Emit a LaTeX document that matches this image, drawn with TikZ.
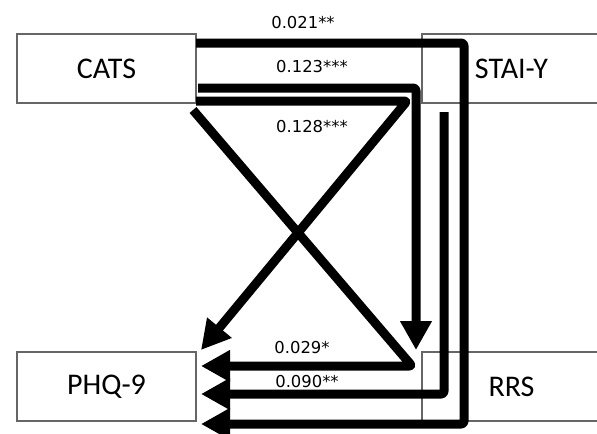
\documentclass[tikz,border=0pt]{standalone}
\usepackage{fontspec}
\setmainfont{Carlito}
\newfontfamily\lblfont{DejaVu Sans}
\usetikzlibrary{arrows.meta}
\begin{document}
\begin{tikzpicture}[x=0.75pt,y=-0.75pt,
  box/.style={draw=black!60,line width=0.8pt,minimum width=134.25pt,minimum height=51.75pt,inner sep=0pt,font=\fontsize{22.5}{26}\selectfont},
  lbl/.style={font=\lblfont\fontsize{12.3}{15}\selectfont,inner sep=0pt},
  conn/.style={line width=6.75pt,line join=round,rounded corners=2pt,-{Triangle[length=21.75pt,width=22.5pt]}}]
\useasboundingbox (0,0) rectangle (597,433);
\clip (0,0) rectangle (597,433);
% boxes
\node[box] (cats) at (106.5,68.5) {CATS};
\node[box] (stai) at (511.5,68.5) {STAI-Y};
\node[box] (phq) at (106.5,386.5) {PHQ-9};
\node[box] (rrs) at (511.5,386.5) {RRS};
% coordinates
\coordinate (p1s) at (196,43);
\coordinate (p1a) at (464,43);
\coordinate (p1b) at (464,424);
\coordinate (p1e) at (201,424);
\coordinate (p2s) at (198,88);
\coordinate (p2a) at (416,88);
\coordinate (p2e) at (416,350);
\coordinate (p3s) at (196,101);
\coordinate (p3a) at (407,101);
\coordinate (p3e) at (201,350);
\coordinate (p4s) at (193,110);
\coordinate (p4a) at (412,366);
\coordinate (p4e) at (201,366);
\coordinate (p5s) at (444,112);
\coordinate (p5a) at (444,394);
\coordinate (p5e) at (201,394);
% connectors
\draw[conn] (p1s) -- (p1a) -- (p1b) -- (p1e);
\draw[conn] (p2s) -- (p2a) -- (p2e);
\draw[conn] (p3s) -- (p3a) -- (p3e);
\draw[conn] (p4s) -- (p4a) -- (p4e);
\draw[conn] (p5s) -- (p5a) -- (p5e);
% labels
\node[lbl] (l1) at (303,23) {0.021**};
\node[lbl] (l2) at (312,67) {0.123***};
\node[lbl] (l3) at (312,127) {0.128***};
\node[lbl] (l4) at (302,348) {0.029*};
\node[lbl] (l5) at (307,382) {0.090**};
\end{tikzpicture}
\end{document}
